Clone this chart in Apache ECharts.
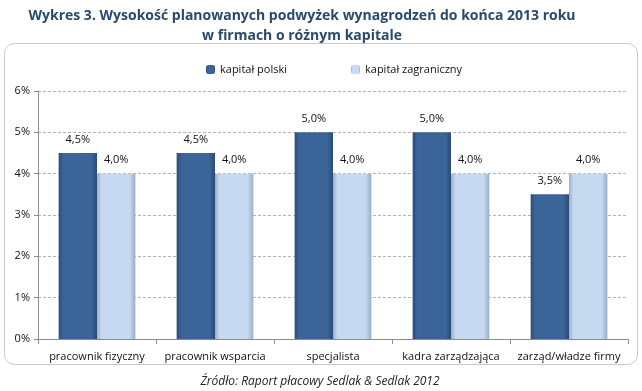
<!DOCTYPE html>
<html><head><meta charset="utf-8">
<script src="https://cdn.jsdelivr.net/npm/echarts@6/dist/echarts.min.js"></script>
<style>html,body{margin:0;padding:0;background:#fff}#c{width:642px;height:391px}</style>
</head><body><div id="c"></div>
<script>
const categories = ['pracownik fizyczny','pracownik wsparcia','specjalista','kadra zarządzająca','zarząd/władze firmy'];
const polski = [4.5, 4.5, 5.0, 5.0, 3.5];
const zagraniczny = [4.0, 4.0, 4.0, 4.0, 4.0];
const seriesNames = ['kapitał polski','kapitał zagraniczny'];

const chart = echarts.init(document.getElementById('c'));
function grad(edge, mid){
  return new echarts.graphic.LinearGradient(0,0,1,0,[
    {offset:0,color:edge},{offset:0.12,color:mid},{offset:0.85,color:mid},{offset:1,color:edge}]);
}
const fmt = p => p.value.toFixed(1).replace('.', ',') + '%';
chart.setOption({
  animation:false,
  graphic:[
    {type:'rect', shape:{x:4.5,y:43.5,width:633,height:321,r:10}, style:{fill:'none', stroke:'#c8c8c8', lineWidth:1}, z:-1},
    {type:'text', x:302, y:9, style:{text:'Wykres 3. Wysokość planowanych podwyżek wynagrodzeń do końca 2013 roku', font:'bold 14px "Open Sans"', fill:'#2A4A6B', textAlign:'center'}},
    {type:'text', x:302, y:29, style:{text:'w firmach o różnym kapitale', font:'bold 14px "Open Sans"', fill:'#2A4A6B', textAlign:'center'}},
    {type:'text', x:320, y:376, style:{text:'Źródło: Raport płacowy Sedlak & Sedlak 2012', font:'italic 12px "Open Sans"', fill:'#222', textAlign:'center'}}
  ],
  legend:{
    data:seriesNames, top:59, left:201, itemGap:64, itemWidth:9, itemHeight:9,
    textStyle:{fontFamily:'Open Sans', fontSize:11, color:'#111'}
  },
  grid:{left:38, right:14, top:91, bottom:52},
  xAxis:{
    type:'category', data:categories,
    axisLine:{lineStyle:{color:'#8c8c8c'}},
    axisTick:{show:true, length:5, lineStyle:{color:'#8c8c8c'}},
    axisLabel:{interval:0, fontFamily:'Open Sans', fontSize:11, color:'#111', margin:12}
  },
  yAxis:{
    type:'value', min:0, max:6, interval:1,
    axisLine:{show:true, lineStyle:{color:'#8c8c8c'}},
    axisTick:{show:true, length:4, lineStyle:{color:'#8c8c8c'}},
    axisLabel:{formatter:v=>v+'%', fontFamily:'Open Sans', fontSize:11, color:'#111', margin:8},
    splitLine:{lineStyle:{color:'#b4b4b4', type:[3,2]}}
  },
  series:[
    {name:seriesNames[0], type:'bar', data:polski, barGap:'0%', barCategoryGap:'35%',
     itemStyle:{color:grad('#2A4C78','#3B6598')},
     label:{show:true, position:'top', formatter:fmt, fontFamily:'Open Sans', fontSize:11, color:'#111', distance:8}},
    {name:seriesNames[1], type:'bar', data:zagraniczny,
     itemStyle:{color:grad('#97AECB','#C6D9F0')},
     label:{show:true, position:'top', formatter:fmt, fontFamily:'Open Sans', fontSize:11, color:'#111', distance:8}}
  ]
});
</script></body></html>
